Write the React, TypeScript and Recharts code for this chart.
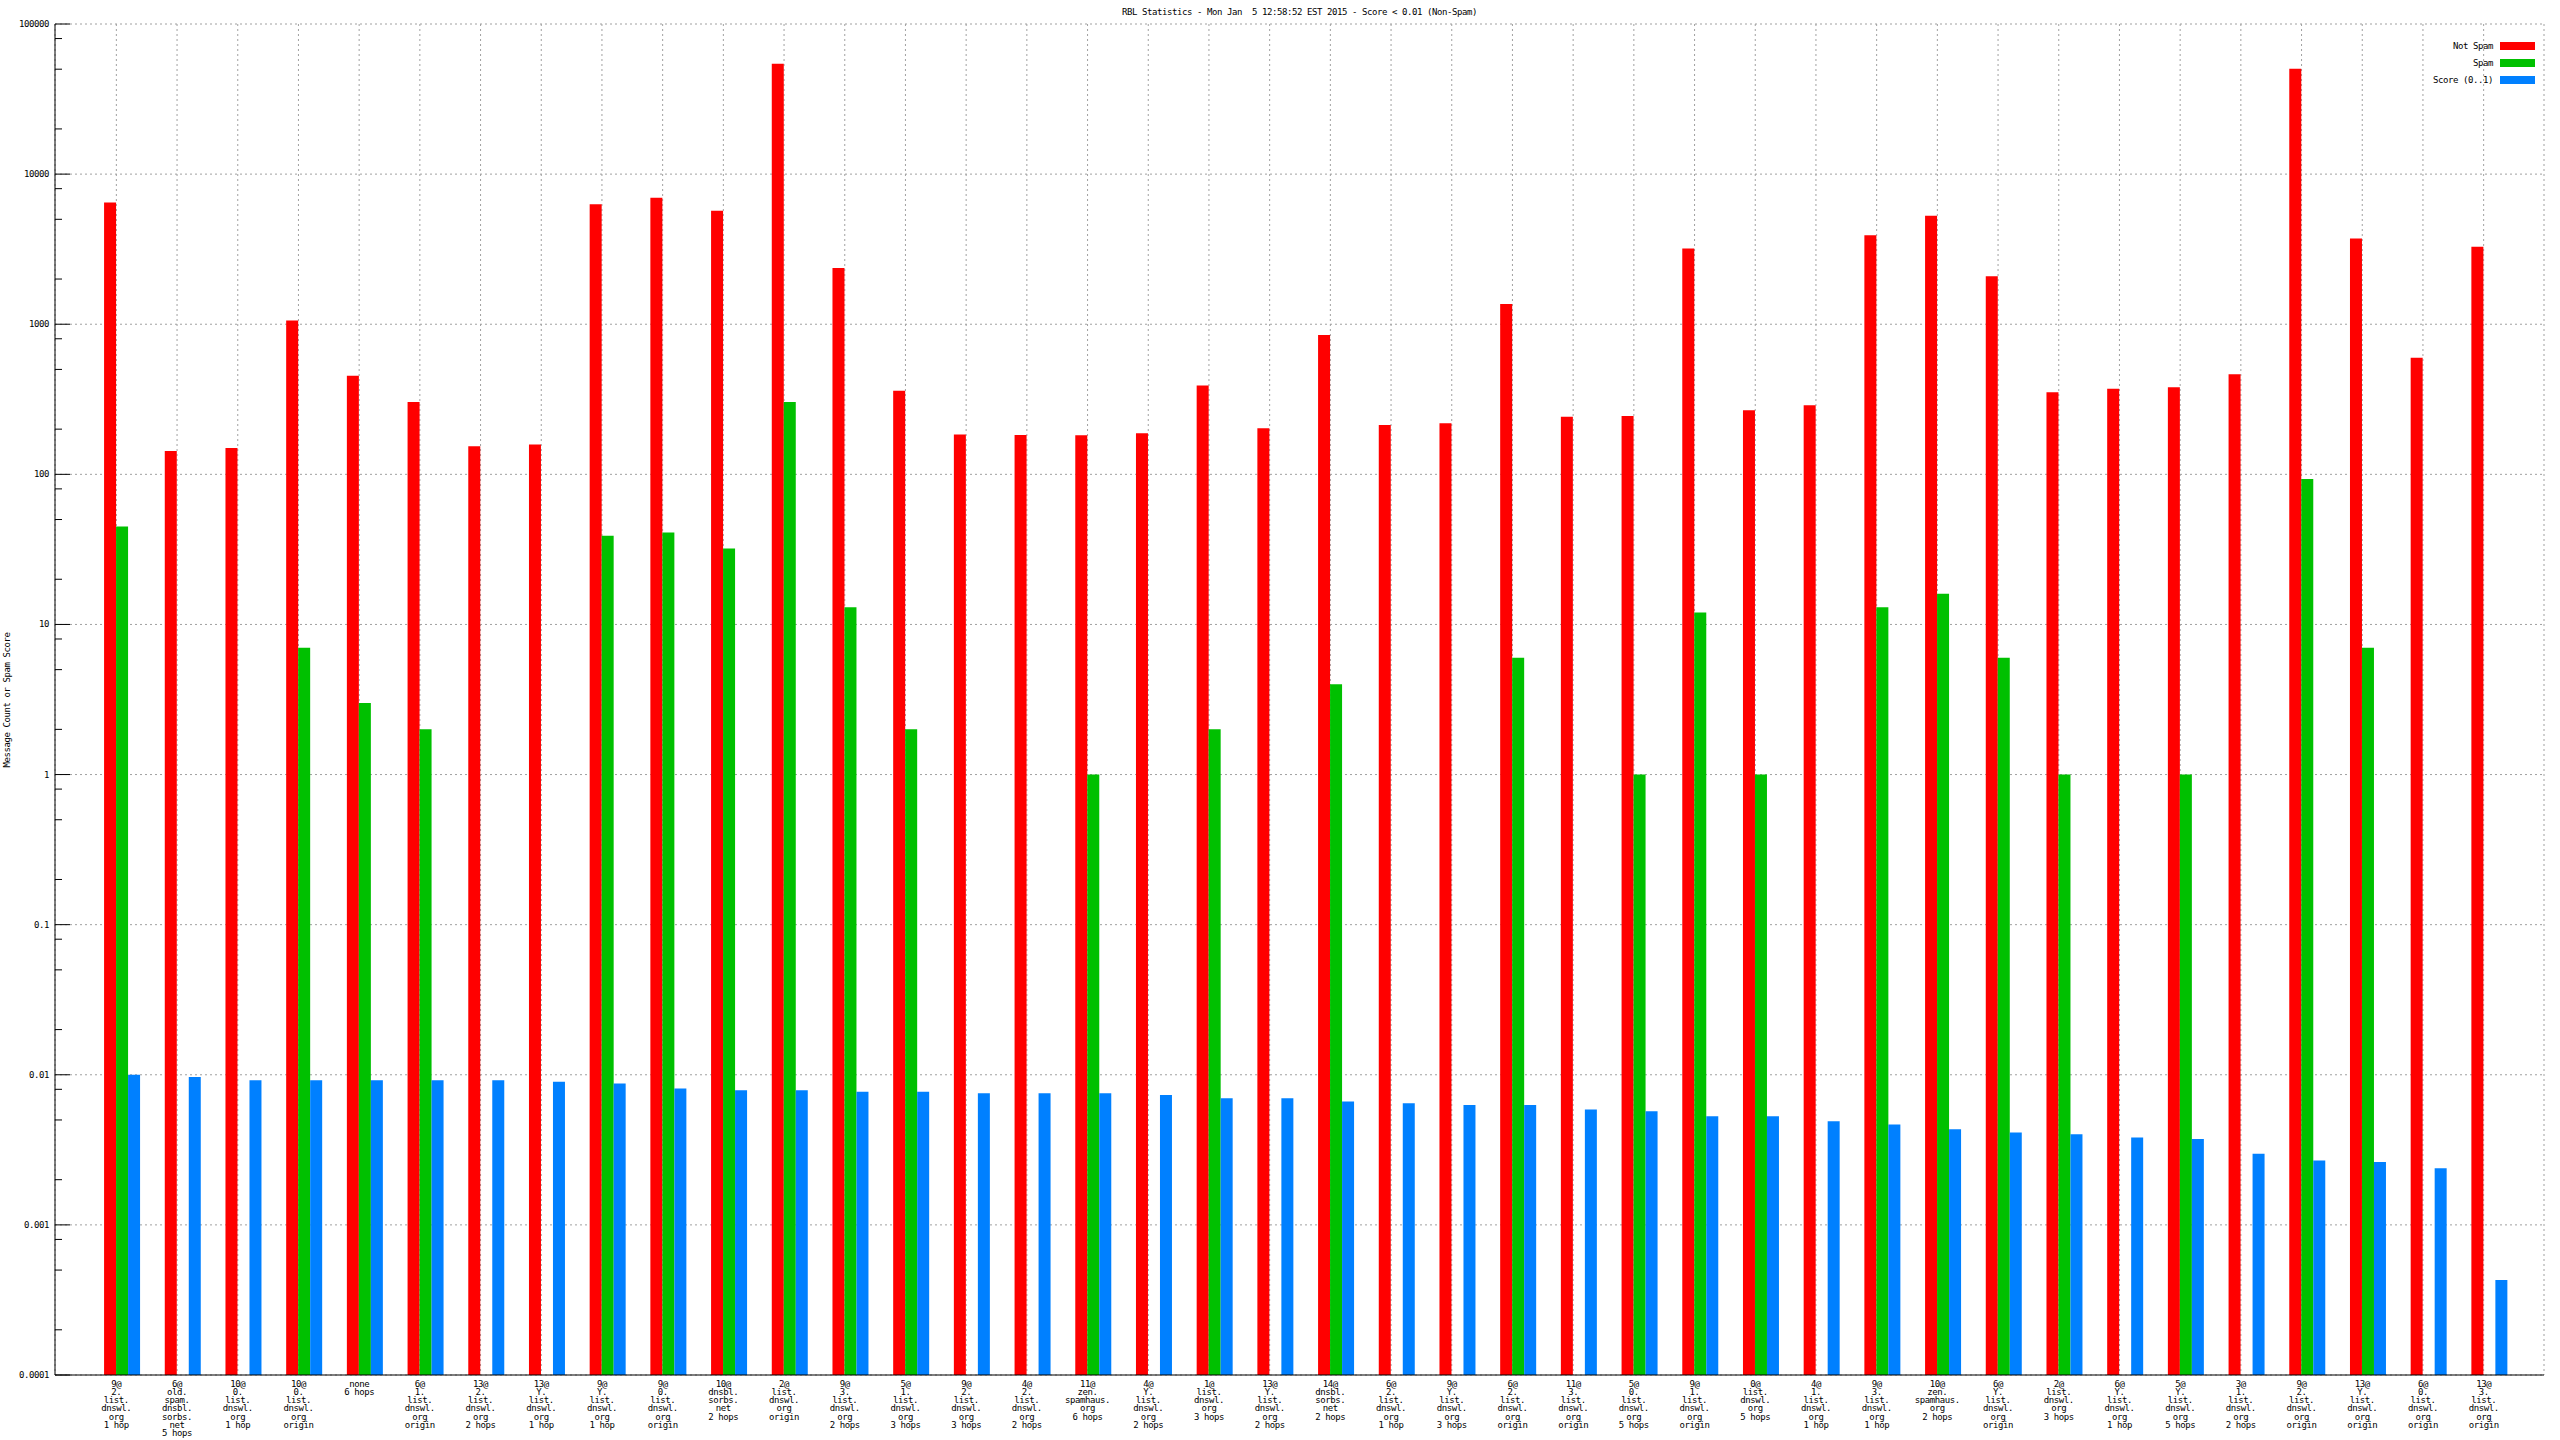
import React from 'react';
import { BarChart, Bar, XAxis, YAxis, CartesianGrid } from 'recharts';

const categories: string[] = [
  '9@\n2.\nlist.\ndnswl.\norg\n1 hop',
  '6@\nold.\nspam.\ndnsbl.\nsorbs.\nnet\n5 hops',
  '10@\n0.\nlist.\ndnswl.\norg\n1 hop',
  '10@\n0.\nlist.\ndnswl.\norg\norigin',
  'none\n6 hops',
  '6@\n1.\nlist.\ndnswl.\norg\norigin',
  '13@\n2.\nlist.\ndnswl.\norg\n2 hops',
  '13@\nY.\nlist.\ndnswl.\norg\n1 hop',
  '9@\nY.\nlist.\ndnswl.\norg\n1 hop',
  '9@\n0.\nlist.\ndnswl.\norg\norigin',
  '10@\ndnsbl.\nsorbs.\nnet\n2 hops',
  '2@\nlist.\ndnswl.\norg\norigin',
  '9@\n3.\nlist.\ndnswl.\norg\n2 hops',
  '5@\n1.\nlist.\ndnswl.\norg\n3 hops',
  '9@\n2.\nlist.\ndnswl.\norg\n3 hops',
  '4@\n2.\nlist.\ndnswl.\norg\n2 hops',
  '11@\nzen.\nspamhaus.\norg\n6 hops',
  '4@\nY.\nlist.\ndnswl.\norg\n2 hops',
  '1@\nlist.\ndnswl.\norg\n3 hops',
  '13@\nY.\nlist.\ndnswl.\norg\n2 hops',
  '14@\ndnsbl.\nsorbs.\nnet\n2 hops',
  '6@\n2.\nlist.\ndnswl.\norg\n1 hop',
  '9@\nY.\nlist.\ndnswl.\norg\n3 hops',
  '6@\n2.\nlist.\ndnswl.\norg\norigin',
  '11@\n3.\nlist.\ndnswl.\norg\norigin',
  '5@\n0.\nlist.\ndnswl.\norg\n5 hops',
  '9@\n1.\nlist.\ndnswl.\norg\norigin',
  '0@\nlist.\ndnswl.\norg\n5 hops',
  '4@\n1.\nlist.\ndnswl.\norg\n1 hop',
  '9@\n3.\nlist.\ndnswl.\norg\n1 hop',
  '10@\nzen.\nspamhaus.\norg\n2 hops',
  '6@\nY.\nlist.\ndnswl.\norg\norigin',
  '2@\nlist.\ndnswl.\norg\n3 hops',
  '6@\nY.\nlist.\ndnswl.\norg\n1 hop',
  '5@\nY.\nlist.\ndnswl.\norg\n5 hops',
  '3@\n1.\nlist.\ndnswl.\norg\n2 hops',
  '9@\n2.\nlist.\ndnswl.\norg\norigin',
  '13@\nY.\nlist.\ndnswl.\norg\norigin',
  '6@\n0.\nlist.\ndnswl.\norg\norigin',
  '13@\n3.\nlist.\ndnswl.\norg\norigin',
];

const notSpam: number[] = [
  6460, 143, 150, 1060, 453, 303, 154, 158, 6300, 6960,
  5700, 54400, 2370, 361, 184, 183, 182, 188, 390, 203,
  847, 213, 219, 1365, 242, 245, 3200, 267, 288, 3910,
  5280, 2090, 352, 371, 380, 464, 50400, 3720, 597, 3280,
];

const spam: (number | null)[] = [
  45, null, null, 7, 3, 2, null, null, 39, 41,
  32, 303, 13, 2, null, null, 1, null, 2, null,
  4, null, null, 6, null, 1, 12, 1, null, 13,
  16, 6, 1, null, 1, null, 93, 7, null, null,
];

const score: number[] = [
  0.0100, 0.00966, 0.0092, 0.0092, 0.0092, 0.0092, 0.0092, 0.00898, 0.00875, 0.0081,
  0.0079, 0.0079, 0.0077, 0.0077, 0.00753, 0.00753, 0.00753, 0.00734, 0.00698, 0.00698,
  0.00664, 0.00647, 0.0063, 0.0063, 0.00586, 0.00571, 0.0053, 0.0053, 0.00491, 0.00467,
  0.00433, 0.00412, 0.00402, 0.00382, 0.00373, 0.00298, 0.00269, 0.00262, 0.00238, 0.00043,
];

const yMajorTicks: number[] = [0.0001, 0.001, 0.01, 0.1, 1, 10, 100, 1000, 10000, 100000];
const yMinorFactors: number[] = [2, 5, 8];

const seriesInfo = [
  { key: 'notSpam', label: 'Not Spam', color: '#ff0000' },
  { key: 'spam', label: 'Spam', color: '#00c000' },
  { key: 'score', label: 'Score (0..1)', color: '#0080ff' },
];

const TITLE = 'RBL Statistics - Mon Jan  5 12:58:52 EST 2015 - Score < 0.01 (Non-Spam)';
const Y_LABEL = 'Message Count or Spam Score';

const data = categories.map((name, i) => ({
  name,
  notSpam: notSpam[i],
  spam: spam[i],
  score: score[i],
}));

const allYTicks: number[] = [];
yMajorTicks.forEach((t, i) => {
  allYTicks.push(t);
  if (i < yMajorTicks.length - 1) yMinorFactors.forEach((f) => allYTicks.push(t * f));
});

const isMajor = (v: number) => yMajorTicks.some((t) => Math.abs(t - v) / t < 1e-9);

const FONT = '"DejaVu Sans Mono", "Liberation Mono", monospace';
const FS = 9;
const LS = -0.42;

const LeftTick = (props: any) => {
  const { x, y, payload } = props;
  const v = payload.value as number;
  const major = isMajor(v);
  return (
    <g>
      <line x1={x} y1={y} x2={x + (major ? 15 : 7)} y2={y} stroke="#000" strokeWidth={1} />
      {major && (
        <text x={x - 6} y={y} textAnchor="end" dominantBaseline="central" fontFamily={FONT} fontSize={FS} letterSpacing={LS} fill="#000">
          {String(v)}
        </text>
      )}
    </g>
  );
};

const RightTick = (props: any) => {
  const { x, y, payload } = props;
  const major = isMajor(payload.value as number);
  return <line x1={x} y1={y} x2={x - (major ? 15 : 7)} y2={y} stroke="#000" strokeWidth={1} />;
};

const TopTick = (props: any) => {
  const { x, y } = props;
  return <line x1={x} y1={y} x2={x} y2={y + 15} stroke="#000" strokeWidth={1} />;
};

const BottomTick = (props: any) => {
  const { x, y, payload } = props;
  const lines = String(payload.value).split('\n');
  return (
    <g>
      {lines.map((l, i) => (
        <text
          key={i}
          x={x}
          y={y + 8.5 + i * 8.3}
          textAnchor="middle"
          dominantBaseline="central"
          fontFamily={FONT}
          fontSize={FS}
          letterSpacing={LS}
          fill="#000"
        >
          {l}
        </text>
      ))}
    </g>
  );
};

const textStyle: React.CSSProperties = {
  position: 'absolute',
  fontFamily: FONT,
  fontSize: FS,
  letterSpacing: LS,
  lineHeight: '10px',
  height: 10,
  color: '#000',
  whiteSpace: 'pre',
};

export default function App() {
  return (
    <div style={{ position: 'fixed', left: 0, top: 0, width: 2560, height: 1440, background: '#fff' }}>
      <BarChart
        width={2560}
        height={1440}
        data={data}
        margin={{ top: 24, right: 16, left: 0, bottom: 0 }}
        barCategoryGap="10%"
        barGap={0}
      >
        <CartesianGrid
          xAxisId="b"
          yAxisId="l"
          stroke="#a0a0a0"
          strokeDasharray="2 3"
          horizontalValues={yMajorTicks}
        />
        <XAxis
          xAxisId="b"
          dataKey="name"
          height={65}
          padding={{ left: 31, right: 30 }}
          interval={0}
          tickSize={0}
          tickMargin={0}
          tickLine={false}
          axisLine={{ stroke: '#000' }}
          tick={BottomTick}
        />
        <XAxis
          xAxisId="t"
          orientation="top"
          dataKey="name"
          height={0}
          padding={{ left: 31, right: 30 }}
          interval={0}
          tickSize={0}
          tickMargin={0}
          tickLine={false}
          axisLine={{ stroke: '#000' }}
          tick={TopTick}
        />
        <YAxis
          yAxisId="l"
          type="number"
          scale="log"
          domain={[0.0001, 100000]}
          allowDataOverflow
          ticks={allYTicks}
          interval={0}
          width={55}
          tickSize={0}
          tickMargin={0}
          tickLine={false}
          axisLine={{ stroke: '#000' }}
          tick={LeftTick}
        />
        <YAxis
          yAxisId="r"
          orientation="right"
          type="number"
          scale="log"
          domain={[0.0001, 100000]}
          allowDataOverflow
          ticks={allYTicks}
          interval={0}
          width={0}
          tickSize={0}
          tickMargin={0}
          tickLine={false}
          axisLine={{ stroke: '#000' }}
          tick={RightTick}
        />
        <Bar xAxisId="b" yAxisId="l" dataKey="pad" fill="none" legendType="none" isAnimationActive={false} />
        {seriesInfo.map((s) => (
          <Bar key={s.key} xAxisId="b" yAxisId="l" dataKey={s.key} fill={s.color} isAnimationActive={false} />
        ))}
      </BarChart>

      <div style={{ ...textStyle, left: 55, width: 2489, top: 7, textAlign: 'center' }}>{TITLE}</div>

      <div
        style={{
          ...textStyle,
          left: 7 - 150,
          top: 700 - 5,
          width: 300,
          textAlign: 'center',
          transform: 'rotate(-90deg)',
          transformOrigin: 'center center',
        }}
      >
        {Y_LABEL}
      </div>

      {seriesInfo.map((s, i) => {
        const cy = 46.3 + i * 17;
        return (
          <React.Fragment key={s.key}>
            <div style={{ ...textStyle, right: 2560 - 2493, top: cy - 5, textAlign: 'right' }}>{s.label}</div>
            <div style={{ position: 'absolute', left: 2500, top: cy - 4, width: 35, height: 8, background: s.color }} />
          </React.Fragment>
        );
      })}
    </div>
  );
}
